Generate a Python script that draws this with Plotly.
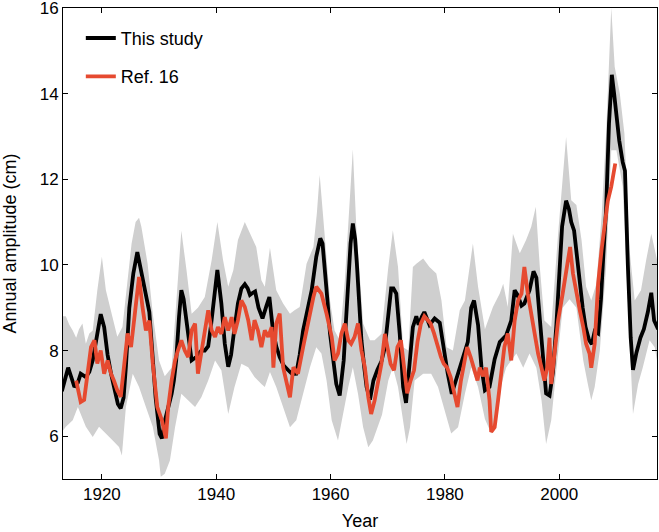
import plotly.graph_objects as go

# ---- This study (black line) ----
black_year = [1913.0, 1913.6, 1914.1, 1914.6, 1915.2, 1915.8, 1916.3, 1917.2, 1917.8, 1918.4,
              1919.1, 1919.8, 1920.4, 1921.0, 1921.6, 1922.2, 1922.8, 1923.3, 1923.8, 1924.2,
              1924.8, 1925.5, 1926.2, 1926.8, 1927.4, 1928.3, 1928.8, 1929.4, 1930.1, 1930.5,
              1931.0, 1931.6, 1932.2, 1932.6, 1933.0, 1933.5, 1933.9, 1934.3, 1934.8, 1935.3,
              1935.7, 1936.5, 1937.4, 1938.0, 1938.6, 1939.1, 1939.5, 1940.2, 1940.9, 1941.5,
              1942.1, 1942.6, 1943.0, 1943.8, 1944.4, 1945.0, 1945.5, 1945.9, 1946.4, 1946.8,
              1947.4, 1948.1, 1948.8, 1949.3, 1949.9, 1950.5, 1951.1, 1951.8, 1952.6, 1953.3,
              1954.0, 1954.6, 1955.2, 1956.0, 1956.7, 1957.5, 1958.2, 1958.6, 1959.0, 1959.5,
              1959.9, 1960.5, 1961.0, 1961.6, 1962.3, 1962.7, 1963.1, 1963.5, 1963.9, 1964.3,
              1964.6, 1965.0, 1965.4, 1965.9, 1966.3, 1966.9, 1967.5, 1968.2, 1968.9, 1969.5,
              1970.1, 1970.6, 1971.0, 1971.5, 1972.1, 1972.7, 1973.2, 1973.8, 1974.4, 1975.0,
              1975.4, 1976.0, 1976.4, 1977.3, 1978.2, 1979.1, 1979.7, 1980.5, 1981.2, 1982.0,
              1982.7, 1983.5, 1984.0, 1984.6, 1985.1, 1985.8, 1986.4, 1987.0, 1987.8, 1988.7,
              1989.6, 1990.7, 1991.6, 1992.2, 1992.7, 1993.4, 1993.9, 1994.8, 1995.5, 1996.0,
              1996.6, 1997.2, 1997.7, 1998.3, 1998.9, 1999.5, 2000.0, 2000.5, 2001.2, 2001.7,
              2002.1, 2002.6, 2003.1, 2003.6, 2004.1, 2004.6, 2005.2, 2005.7, 2006.2, 2006.8,
              2007.3, 2007.7, 2008.2, 2008.7, 2009.2, 2009.6, 2010.0, 2010.5, 2011.1, 2011.5,
              2012.0, 2012.5, 2012.9, 2013.5, 2014.2, 2014.8, 2015.5, 2016.1, 2016.6, 2017.3]
black_amp = [7.05, 7.35, 7.6, 7.4, 7.15, 7.25, 7.46, 7.38, 7.5, 7.77,
             8.3, 8.85, 8.55, 7.9, 7.46, 7.07, 6.75, 6.65, 6.9, 7.62,
             9.0, 9.8, 10.3, 9.9, 9.5, 8.9, 8.0, 6.9, 6.05, 5.95,
             6.35, 6.65, 6.99, 7.3, 7.77, 8.8, 9.41, 9.2, 8.71, 8.1,
             7.77, 7.85, 8.0, 8.0, 8.1, 8.6, 9.1, 9.88, 9.1, 8.16,
             7.62, 7.9, 8.32, 9.1, 9.45, 9.55, 9.45, 9.3, 9.35, 9.38,
             9.0, 8.75, 9.05, 9.25, 8.5, 8.1, 7.85, 7.65, 7.54, 7.45,
             7.46, 7.9, 8.47, 8.95, 9.41, 10.19, 10.62, 10.5, 9.95, 9.1,
             8.4, 7.7, 7.22, 6.95, 7.77, 8.7, 9.64, 10.5, 10.97, 10.6,
             10.03, 9.1, 8.24, 7.6, 7.15, 6.85, 7.3, 7.55, 7.75, 8.08,
             8.94, 9.45, 9.45, 9.33, 8.39, 7.15, 6.78, 7.61, 8.55, 8.8,
             8.6, 8.8, 8.9, 8.6, 8.75, 8.65, 8.1, 7.46, 6.99, 7.35,
             7.6, 7.95, 8.2, 9.0, 9.17, 8.6, 7.6, 7.07, 7.15, 7.8,
             8.2, 8.35, 8.7, 9.41, 9.3, 9.05, 9.1, 9.41, 9.85, 9.7,
             8.8, 7.77, 7.0, 6.95, 7.5, 8.6, 9.8, 10.9, 11.5, 11.3,
             11.0, 10.8, 10.2, 9.5, 9.0, 8.55, 8.25, 8.15, 8.45, 8.4,
             9.2, 10.2, 11.3, 13.3, 14.44, 14.0, 13.5, 12.9, 12.4, 12.2,
             10.0, 8.3, 7.55, 7.95, 8.3, 8.5, 8.9, 9.35, 8.7, 8.5]

# ---- Uncertainty band of this study ----
upper_year = [1913.0, 1913.7, 1914.3, 1914.9, 1915.5, 1916.0, 1916.6, 1917.2, 1917.8, 1918.4,
              1919.2, 1920.0, 1920.7, 1921.9, 1922.7, 1923.6, 1924.5, 1925.2, 1925.9, 1926.5,
              1926.9, 1928.0, 1928.9, 1930.0, 1931.0, 1932.2, 1933.0, 1933.9, 1934.8, 1935.7,
              1936.8, 1938.0, 1939.2, 1940.2, 1941.2, 1942.1, 1943.0, 1943.8, 1945.0, 1946.2,
              1947.0, 1947.9, 1948.5, 1949.4, 1950.5, 1951.7, 1952.9, 1953.7, 1954.6, 1955.8,
              1957.0, 1957.6, 1958.1, 1958.9, 1959.9, 1960.7, 1961.6, 1962.5, 1963.3, 1963.9,
              1964.5, 1965.7, 1966.9, 1967.7, 1968.9, 1970.1, 1970.9, 1971.8, 1972.7, 1973.6,
              1974.4, 1975.0, 1976.2, 1977.3, 1978.5, 1979.4, 1980.3, 1981.4, 1982.6, 1983.5,
              1984.9, 1985.8, 1987.0, 1987.8, 1988.4, 1989.6, 1990.2, 1991.0, 1991.9, 1993.1,
              1994.2, 1995.1, 1995.9, 1996.6, 1997.4, 1998.6, 1999.8, 2001.2, 2002.1, 2003.0,
              2003.9, 2004.7, 2005.6, 2006.5, 2007.4, 2008.2, 2009.1, 2009.7, 2010.6, 2011.4,
              2012.3, 2013.2, 2014.3, 2015.2, 2016.1, 2017.3]
upper_amp = [8.8, 8.8, 8.6, 8.47, 8.3, 8.5, 8.63, 8.16, 8.4, 8.47,
             9.4, 10.19, 9.41, 8.71, 8.32, 8.55, 9.64, 10.5, 11.0, 11.1,
             10.9, 10.03, 8.86, 7.77, 7.4, 7.6, 9.1, 10.8, 9.88, 8.86,
             9.0, 9.25, 10.11, 11.0, 10.11, 9.49, 9.88, 10.58, 11.0, 10.66,
             10.42, 9.64, 9.49, 10.4, 9.41, 9.1, 8.86, 8.94, 9.02, 10.03,
             10.42, 11.2, 12.1, 10.81, 9.17, 8.47, 8.24, 9.64, 11.3, 12.7,
             10.9, 8.63, 8.24, 8.24, 8.39, 9.95, 10.81, 9.95, 8.08, 8.0,
             9.95, 10.03, 10.15, 9.95, 9.8, 9.17, 8.08, 8.0, 8.94, 9.17,
             10.5, 9.49, 8.5, 8.8, 9.02, 9.33, 9.56, 9.02, 10.73, 10.27,
             10.58, 10.89, 11.36, 9.95, 8.7, 8.55, 10.73, 12.99, 11.51, 11.4,
             10.58, 9.49, 9.17, 9.56, 11.12, 13.07, 16.0, 14.63, 14.0, 13.07,
             10.35, 9.17, 9.41, 10.11, 10.73, 10.0]
lower_year = [1913.0, 1913.7, 1914.9, 1915.8, 1917.2, 1918.4, 1919.5, 1920.7, 1921.9, 1923.0,
              1923.5, 1924.2, 1925.4, 1926.5, 1927.7, 1928.9, 1930.0, 1930.3, 1931.0, 1931.9,
              1932.8, 1933.9, 1935.1, 1936.3, 1937.4, 1938.6, 1939.8, 1940.9, 1942.1, 1943.2,
              1944.4, 1945.6, 1946.7, 1947.9, 1948.5, 1949.4, 1950.5, 1951.7, 1952.9, 1954.0,
              1955.2, 1956.4, 1957.5, 1958.4, 1959.3, 1960.2, 1961.3, 1962.2, 1963.1, 1963.9,
              1964.8, 1965.7, 1966.6, 1967.4, 1968.2, 1969.0, 1970.1, 1970.9, 1971.8, 1972.7,
              1973.3, 1973.9, 1974.7, 1976.2, 1977.6, 1978.8, 1980.0, 1981.1, 1982.3, 1983.5,
              1984.6, 1985.8, 1987.0, 1988.1, 1989.0, 1989.9, 1990.7, 1991.6, 1992.5, 1993.7,
              1994.8, 1996.0, 1996.9, 1997.7, 1998.6, 1999.5, 2000.6, 2001.8, 2003.0, 2004.2,
              2005.0, 2005.6, 2006.2, 2007.1, 2008.2, 2009.1, 2010.0, 2011.1, 2012.0, 2012.9,
              2013.8, 2014.6, 2015.8, 2016.7, 2017.3]
lower_amp = [6.1, 6.22, 6.37, 6.68, 6.22, 5.98, 6.22, 6.06, 5.9, 5.75,
             5.55, 6.68, 7.46, 7.15, 6.68, 6.22, 5.44, 5.05, 5.12, 5.43,
             6.21, 6.99, 6.83, 6.68, 6.91, 7.3, 7.77, 7.54, 6.52, 7.15,
             7.69, 7.61, 7.38, 7.22, 7.15, 7.5, 7.15, 6.68, 6.21, 6.37,
             6.99, 7.61, 8.08, 7.93, 7.3, 6.37, 5.9, 6.52, 7.15, 7.61,
             6.99, 6.21, 5.74, 5.9, 6.2, 6.5, 7.3, 7.61, 7.15, 6.37,
             5.82, 6.21, 7.3, 7.46, 7.46, 7.15, 6.6, 6.06, 6.21, 6.99,
             7.61, 7.15, 6.4, 6.06, 6.29, 7.22, 7.6, 7.77, 7.93, 7.6,
             7.93, 7.6, 6.84, 5.82, 6.37, 7.6, 9.0, 9.2, 9.0, 7.77,
             7.22, 6.84, 7.15, 8.0, 9.95, 12.68, 12.68, 11.83, 9.17, 6.52,
             7.22, 7.6, 8.24, 8.08, 7.6]

# ---- Ref. 16 (red line) ----
ref_year = [1915.5, 1915.8, 1916.3, 1916.9, 1917.5, 1918.1, 1918.7, 1919.2, 1919.8, 1920.4,
            1921.0, 1921.6, 1922.1, 1922.7, 1923.3, 1923.9, 1924.5, 1925.1, 1925.7, 1926.5,
            1927.1, 1927.7, 1928.3, 1928.9, 1929.7, 1930.5, 1931.2, 1931.6, 1932.2, 1932.8,
            1933.3, 1933.9, 1934.5, 1935.1, 1935.7, 1936.3, 1936.8, 1937.4, 1938.0, 1938.6,
            1939.2, 1939.8, 1940.3, 1940.9, 1941.5, 1942.1, 1942.7, 1943.2, 1943.8, 1944.4,
            1945.0, 1945.6, 1946.2, 1946.7, 1947.3, 1947.9, 1948.5, 1949.1, 1949.7, 1950.0,
            1950.5, 1951.1, 1951.7, 1952.3, 1952.9, 1953.5, 1954.3, 1955.2, 1956.1, 1957.0,
            1957.5, 1958.4, 1959.3, 1960.2, 1960.7, 1961.3, 1961.9, 1962.5, 1963.1, 1963.6,
            1964.2, 1964.8, 1965.4, 1966.0, 1966.6, 1967.1, 1967.7, 1968.3, 1968.9, 1969.5,
            1970.0, 1970.5, 1971.1, 1971.7, 1972.3, 1972.9, 1973.4, 1974.0, 1974.6, 1975.2,
            1975.8, 1976.4, 1977.0, 1977.5, 1978.1, 1978.7, 1979.3, 1979.8, 1980.4, 1981.0,
            1981.6, 1982.2, 1982.8, 1983.4, 1983.9, 1984.5, 1985.1, 1985.7, 1986.1, 1986.7,
            1987.2, 1987.8, 1988.1, 1988.7, 1989.3, 1989.9, 1990.4, 1991.0, 1991.6, 1992.2,
            1992.8, 1993.4, 1993.9, 1994.5, 1995.1, 1995.7, 1996.3, 1996.9, 1997.4, 1997.9,
            1998.3, 1998.6, 1999.2, 1999.8, 2000.6, 2001.2, 2001.9, 2002.4, 2003.0, 2003.6,
            2004.2, 2004.7, 2005.3, 2005.6, 2006.2, 2006.8, 2007.4, 2007.9, 2008.5, 2009.1,
            2009.8]
ref_amp = [7.3, 7.1, 6.8, 6.85, 7.46, 8.08, 8.24, 7.7, 8.0, 7.46,
           7.77, 7.46, 7.3, 7.07, 6.92, 7.77, 8.4, 8.08, 8.78, 9.72,
           9.02, 8.47, 8.7, 7.7, 6.68, 6.37, 5.95, 6.68, 7.3, 7.77,
           8.0, 8.24, 8.0, 7.85, 8.47, 8.63, 7.46, 7.93, 8.39, 8.94,
           8.47, 8.32, 8.55, 8.39, 8.78, 8.47, 8.78, 8.39, 8.71, 9.17,
           9.02, 8.71, 8.24, 8.71, 8.47, 8.08, 8.47, 8.32, 8.55, 7.6,
           8.63, 8.86, 7.61, 7.3, 6.91, 7.61, 7.46, 8.08, 8.7, 9.25,
           9.49, 9.33, 8.86, 8.32, 7.77, 7.93, 8.4, 8.63, 8.24, 8.16,
           8.32, 8.63, 8.0, 7.61, 6.91, 6.52, 6.83, 7.3, 7.69, 8.39,
           8.0, 7.69, 7.54, 8.08, 8.24, 7.54, 7.0, 7.3, 7.54, 8.2,
           8.63, 8.8, 8.7, 8.63, 8.4, 8.08, 7.85, 7.69, 7.6, 7.38,
           6.99, 6.68, 7.3, 7.77, 8.08, 7.85, 7.55, 7.3, 7.6, 7.4,
           7.6, 6.84, 6.1, 6.21, 6.84, 7.6, 8.08, 8.4, 7.77, 8.7,
           9.17, 9.33, 9.95, 9.33, 8.86, 8.4, 7.93, 7.6, 7.3, 7.6,
           8.3, 7.22, 8.0, 8.7, 9.33, 9.9, 10.42, 9.8, 9.33, 8.94,
           8.55, 8.16, 7.93, 7.6, 8.16, 9.56, 10.35, 10.89, 11.5, 11.83,
           12.37]

x_ticks = [1920, 1940, 1960, 1980, 2000]
y_ticks = [6, 8, 10, 12, 14, 16]

FONT = "Liberation Sans, Arial, Helvetica, sans-serif"
RED = "rgb(230,74,48)"

fig = go.Figure()
fig.add_trace(go.Scatter(
    x=upper_year + lower_year[::-1], y=upper_amp + lower_amp[::-1],
    fill="toself", fillcolor="rgb(207,207,207)", line=dict(width=0),
    mode="lines", showlegend=False, hoverinfo="skip"))
fig.add_trace(go.Scatter(x=black_year, y=black_amp, mode="lines", name="This study",
                         legendgroup="a", line=dict(color="black", width=3.8)))
fig.add_trace(go.Scatter(x=ref_year, y=ref_amp, mode="lines", name="Ref. 16",
                         legendgroup="b", line=dict(color=RED, width=3.8)))

axis_common = dict(showline=True, linecolor="black", linewidth=1, mirror="ticks",
                   ticks="inside", ticklen=5, tickwidth=1, tickcolor="black",
                   showgrid=False, zeroline=False, automargin=False,
                   ticklabeloverflow="allow",
                   tickfont=dict(family=FONT, size=17, color="black"))

fig.update_layout(
    width=659, height=532,
    margin=dict(l=63, r=2, t=8, b=53),
    paper_bgcolor="white", plot_bgcolor="white",
    font=dict(family=FONT, size=18, color="black"),
    xaxis=dict(range=[1913.2, 2017.1], tickvals=x_ticks,
               title=dict(text="Year", font=dict(family=FONT, size=18), standoff=10),
               **axis_common),
    yaxis=dict(range=[5, 16.001], tickvals=y_ticks,
               title=dict(text="Annual amplitude (cm)", font=dict(family=FONT, size=18), standoff=19),
               **axis_common),
    legend=dict(x=0.03, y=0.975, xanchor="left", yanchor="top",
                bgcolor="rgba(0,0,0,0)", traceorder="grouped", tracegroupgap=12,
                font=dict(family=FONT, size=18, color="black")),
)

fig.write_html("out.html", config={"displayModeBar": False},
               post_script="document.body.style.margin='0px';document.body.style.overflow='hidden';")
